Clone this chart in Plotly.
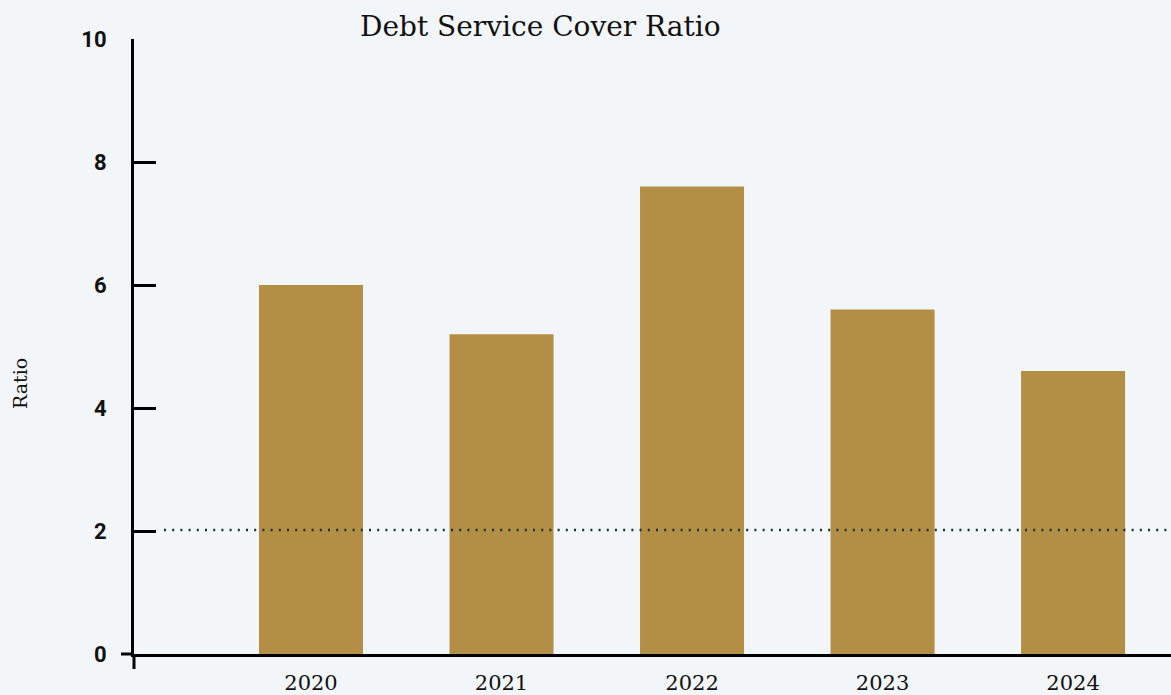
import plotly.graph_objects as go

years = ["2020", "2021", "2022", "2023", "2024"]
ratios = [6.0, 5.2, 7.6, 5.6, 4.6]
threshold = 2
y_ticks = [0, 2, 4, 6, 8, 10]

W, H = 1171, 695
ML, MR, MT, MB = 134, 0, 39, 41
PW, PH = W - ML - MR, H - MT - MB

def px_x(px):
    return (px - ML) / PW

def px_y(py):
    return (H - MB - py) / PH

xpos = list(range(len(years)))

fig = go.Figure()
fig.add_trace(go.Bar(x=xpos, y=ratios, width=0.546, marker=dict(color="#b38f45", line=dict(width=0)),
                     showlegend=False, hoverinfo="x+y"))

fig.update_layout(
    width=W, height=H,
    margin=dict(l=ML, r=MR, t=MT, b=MB, pad=0),
    paper_bgcolor="#f3f6f8", plot_bgcolor="#f3f6f8",
    xaxis=dict(range=[-0.929, 4.514], tickvals=xpos, ticktext=years, showgrid=False, zeroline=False,
               showline=True, linecolor="black", linewidth=3, ticks="",
               tickfont=dict(family="DejaVu Serif", size=21, color="#111"), ticklabelstandoff=8),
    yaxis=dict(range=[0, 10], tickvals=y_ticks, showgrid=False, zeroline=False,
               showline=True, linecolor="black", linewidth=3, ticks="inside", ticklen=22, tickwidth=3,
               tickcolor="black", tickfont=dict(family="Roboto", size=22, color="#111", weight="bold"),
               ticklabelstandoff=20),
    shapes=[
        dict(type="line", xref="paper", yref="paper", x0=px_x(164), x1=1, y0=px_y(530), y1=px_y(530),
             line=dict(color="#1a322c", width=2.4, dash="2px,6.2px")),
        dict(type="line", xref="paper", yref="paper", x0=0, x1=0, y0=0, y1=px_y(669),
             line=dict(color="black", width=3)),
        dict(type="line", xref="paper", yref="paper", x0=px_x(121), x1=0, y0=0, y1=0,
             line=dict(color="black", width=3)),
    ],
    annotations=[
        dict(text="Debt Service Cover Ratio", xref="paper", yref="paper", x=px_x(540), y=px_y(27),
             xanchor="center", yanchor="middle", showarrow=False,
             font=dict(family="DejaVu Serif", size=28, color="#111")),
        dict(text="Ratio", xref="paper", yref="paper", x=px_x(20), y=px_y(384), textangle=-90,
             xanchor="center", yanchor="middle", showarrow=False,
             font=dict(family="DejaVu Serif", size=19, color="#111")),
    ],
)

fig.write_html("out.html", config={"displayModeBar": False},
               post_script="document.body.style.margin='0';document.body.style.overflow='hidden';")
